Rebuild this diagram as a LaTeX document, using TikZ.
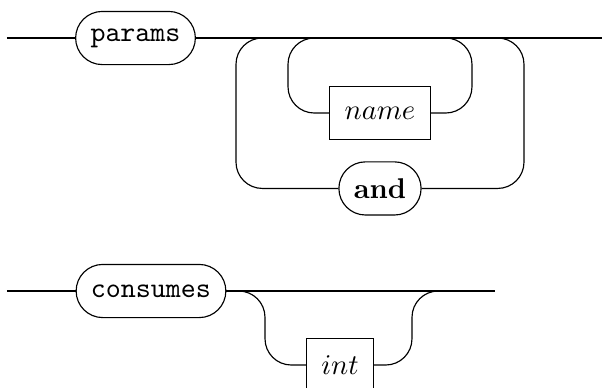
\documentclass[tikz,border=0pt]{standalone}
\usetikzlibrary{positioning}
\tikzset{
  rterm/.style={rectangle,rounded corners=9.3pt,draw,fill=white,
                minimum height=18.6pt,inner xsep=5.2pt,inner ysep=0pt},
  rkey/.style={rterm,font=\ttfamily},
  rvar/.style={rterm,sharp corners},
  rline/.style={draw,rounded corners=9.2pt},
}
\begin{document}
\begin{tikzpicture}[x=0.35pt,y=-0.35pt]
    \useasboundingbox (0,0) rectangle (602,387);
    % params
    \node[rkey] (params) at (135.5,38) {params};
    \node[rvar] (name) at (380,113) {$name$};
    \node[rterm,font=\bfseries,below=7.4pt of name] (and) {and};
    \coordinate (s1) at (7,38);
    \coordinate (e1) at (602,38);
    \coordinate (oL) at (236,38);
    \coordinate (iL) at (288,38);
    \coordinate (iR) at (472,38);
    \coordinate (oR) at (524,38);
    \draw (s1) -- (params) -- (e1);
    \draw[rline] (and.west) -| (oL) -- (iL);
    \draw[rline] (name.west) -| (iL) -- (iR);
    \draw[rline] (name.east) -| (iR) -- (iL);
    \draw[rline] (and.east) -| (oR) -- (iR);
    % consumes
    \node[rkey] (cons) at (151,291) {consumes};
    \node[rvar] (int) at (340,365) {$int$};
    \coordinate (s2) at (7,291);
    \coordinate (e2) at (495,291);
    \coordinate (bL) at (265,291);
    \coordinate (bR) at (412,291);
    \draw (s2) -- (cons) -- (e2);
    \draw[rline] (cons.east) -- (bL) |- (int.west);
    \draw[rline] (int.east) -| (bR) -- (e2);
\end{tikzpicture}
\end{document}
